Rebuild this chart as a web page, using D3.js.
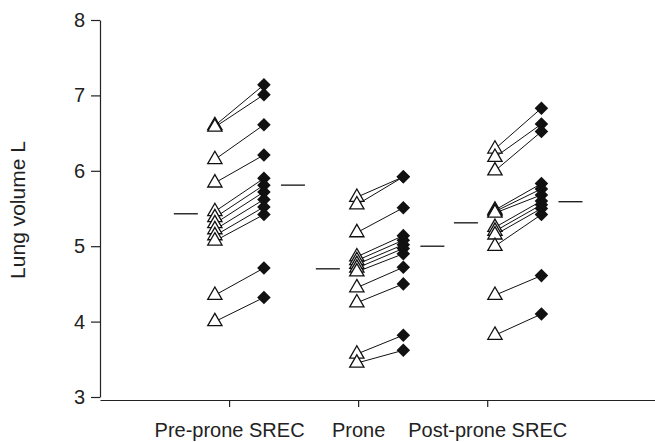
<!DOCTYPE html>
<html>
<head>
<meta charset="utf-8">
<script src="https://cdn.jsdelivr.net/npm/d3@7"></script>
<style>
  body { margin: 0; background: #fff; }
  svg text { font-family: "Liberation Sans", Arial, sans-serif; fill: #222; }
</style>
</head>
<body>
<div id="chart"></div>
<script>
// phases shown on the x axis
const phases = ["Pre-prone SREC", "Prone", "Post-prone SREC"];

// lung volume (L) per subject, first (open triangle) and second (filled diamond) measurement
const preSrecBefore  = [6.60, 6.58, 6.15, 5.84, 5.46, 5.38, 5.30, 5.22, 5.14, 5.07, 4.35, 4.00];
const preSrecAfter   = [7.14, 7.01, 6.61, 6.21, 5.90, 5.81, 5.72, 5.62, 5.52, 5.42, 4.71, 4.32];
const proneBefore    = [5.65, 5.55, 5.18, 4.86, 4.81, 4.76, 4.71, 4.66, 4.45, 4.25, 3.57, 3.45];
const proneAfter     = [5.92, 5.92, 5.51, 5.14, 5.08, 5.02, 4.97, 4.90, 4.72, 4.50, 3.82, 3.62];
const postSrecBefore = [6.29, 6.18, 6.00, 5.48, 5.46, 5.44, 5.25, 5.20, 5.15, 5.00, 4.35, 3.82];
const postSrecAfter  = [6.83, 6.62, 6.52, 5.83, 5.76, 5.68, 5.60, 5.55, 5.50, 5.42, 4.61, 4.10];

// group means (the short horizontal dashes)
const meanBefore = [5.43, 4.70, 5.31];
const meanAfter  = [5.81, 5.00, 5.59];

const yTicks = [3, 4, 5, 6, 7, 8];

// layout
const width = 655;
const height = 442;
const margin = {left: 100, right: 0, top: 20, bottom: 45};
const beforeX = [0.89, 1.99, 3.06];   // x position of the triangles (axis units)
const afterX  = [1.27, 2.35, 3.42];   // x position of the diamonds
const dashGap = 0.225, dashHalf = 0.093;

const groups = [
  {before: preSrecBefore, after: preSrecAfter},
  {before: proneBefore, after: proneAfter},
  {before: postSrecBefore, after: postSrecAfter}
];

const svg = d3.select("#chart")
  .append("svg")
  .attr("width", width)
  .attr("height", height);

const x = d3.scaleLinear()
  .domain([0, 4.3])
  .range([margin.left, width - margin.right]);

const y = d3.scaleLinear()
  .domain([3, 8])
  .range([397, margin.top]);

// y axis
const yAxis = svg.append("g")
  .attr("transform", `translate(${margin.left},0)`)
  .call(d3.axisLeft(y).tickValues(yTicks).tickFormat(d3.format("d"))
          .tickSize(9).tickSizeOuter(0).tickPadding(6));
yAxis.selectAll("text").attr("font-size", "20px");

// x axis (sits a bit lower than the y axis end)
const xAxis = svg.append("g")
  .attr("transform", `translate(0,400)`)
  .call(d3.axisBottom(x).tickValues([1, 2, 3]).tickSize(7).tickSizeOuter(0)
          .tickFormat((d, i) => phases[i]).tickPadding(16));
xAxis.selectAll("text").attr("font-size", "20px");

svg.selectAll(".domain, .tick line").attr("stroke", "#222").attr("stroke-width", 1.2);
svg.selectAll(".tick text").attr("fill", "#222");

// y label
svg.append("text")
  .attr("transform", `translate(25,${y(5.48)}) rotate(-90)`)
  .attr("text-anchor", "middle")
  .attr("font-size", "21px")
  .text("Lung volume L");

// paired data
const pairs = [];
groups.forEach((g, gi) => {
  g.before.forEach((v, i) => pairs.push({g: gi, before: v, after: g.after[i]}));
});

svg.selectAll("line.pair")
  .data(pairs)
  .enter()
  .append("line")
    .attr("class", "pair")
    .attr("x1", d => x(beforeX[d.g]))
    .attr("y1", d => y(d.before))
    .attr("x2", d => x(afterX[d.g]))
    .attr("y2", d => y(d.after))
    .attr("stroke", "#111")
    .attr("stroke-width", 1);

const tri = d3.symbol().type(d3.symbolTriangle).size(88);
svg.selectAll("path.tri")
  .data(pairs)
  .enter()
  .append("path")
    .attr("class", "tri")
    .attr("d", tri)
    .attr("transform", d => `translate(${x(beforeX[d.g])},${y(d.before)})`)
    .attr("fill", "#fff")
    .attr("stroke", "#111")
    .attr("stroke-width", 1.3);

const dia = d3.symbol().type(d3.symbolSquare).size(92);
svg.selectAll("path.dia")
  .data(pairs)
  .enter()
  .append("path")
    .attr("class", "dia")
    .attr("d", dia)
    .attr("transform", d => `translate(${x(afterX[d.g])},${y(d.after)}) rotate(45)`)
    .attr("fill", "#111");

// mean dashes
const means = [];
meanBefore.forEach((m, gi) => {
  means.push({cx: beforeX[gi] - dashGap, v: m});
  means.push({cx: afterX[gi] + dashGap, v: meanAfter[gi]});
});

svg.selectAll("line.mean")
  .data(means)
  .enter()
  .append("line")
    .attr("class", "mean")
    .attr("x1", d => x(d.cx - dashHalf))
    .attr("x2", d => x(d.cx + dashHalf))
    .attr("y1", d => y(d.v))
    .attr("y2", d => y(d.v))
    .attr("stroke", "#111")
    .attr("stroke-width", 1.3);
</script>
</body>
</html>
